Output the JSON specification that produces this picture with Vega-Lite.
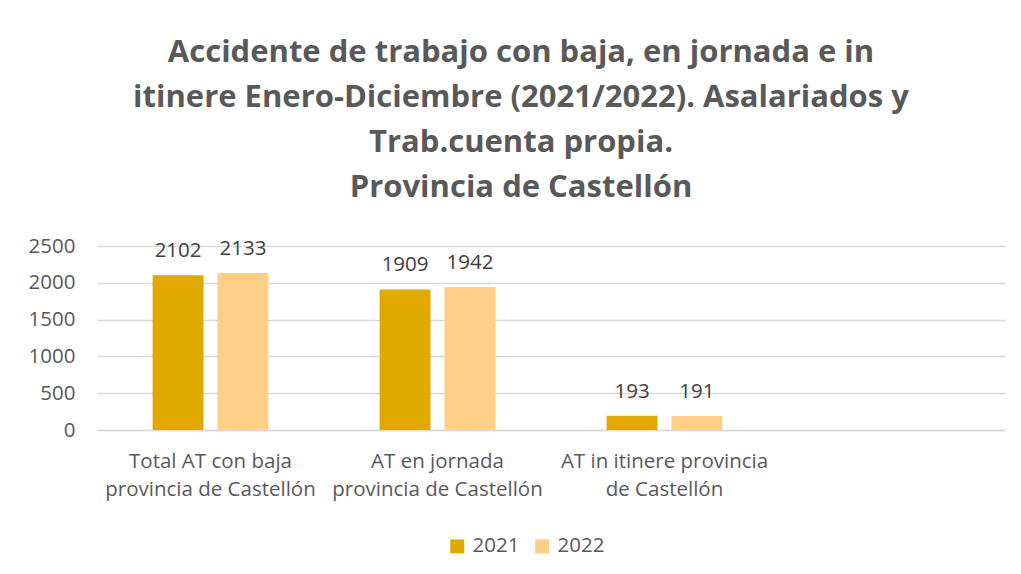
{
  "$schema": "https://vega.github.io/schema/vega-lite/v6.json",
  "width": 908,
  "height": 184,
  "autosize": {"type": "none"},
  "padding": {"left": 97, "top": 246, "right": 16, "bottom": 144},
  "background": "white",
  "title": {
    "text": ["Accidente de trabajo con baja, en jornada e in", "itinere Enero-Diciembre (2021/2022). Asalariados y", "Trab.cuenta propia.", "Provincia de Castellón"],
    "font": "Open Sans",
    "fontSize": 31,
    "fontWeight": "bold",
    "color": "#595959",
    "lineHeight": 45,
    "anchor": "middle",
    "dx": -30,
    "offset": 32
  },
  "data": {
    "values": [
      {"cat": "Total AT con baja|provincia de Castellón", "year": "2021", "value": 2102},
      {"cat": "Total AT con baja|provincia de Castellón", "year": "2022", "value": 2133},
      {"cat": "AT en jornada|provincia de Castellón", "year": "2021", "value": 1909},
      {"cat": "AT en jornada|provincia de Castellón", "year": "2022", "value": 1942},
      {"cat": "AT in itinere provincia|de Castellón", "year": "2021", "value": 193},
      {"cat": "AT in itinere provincia|de Castellón", "year": "2022", "value": 191}
    ]
  },
  "encoding": {
    "x": {
      "field": "cat",
      "type": "nominal",
      "sort": null,
      "scale": {
        "domain": ["Total AT con baja|provincia de Castellón", "AT en jornada|provincia de Castellón", "AT in itinere provincia|de Castellón", " "],
        "paddingInner": 0.49,
        "paddingOuter": 0.245
      },
      "axis": {
        "title": null,
        "labelExpr": "split(datum.label, '|')",
        "labelAngle": 0,
        "labelLimit": 0,
        "labelOverlap": false,
        "labelFont": "Open Sans",
        "labelFontSize": 20.5,
        "labelColor": "#595959",
        "labelLineHeight": 28,
        "labelPadding": 21,
        "labelBaseline": "top",
        "ticks": false,
        "domain": true,
        "domainColor": "#D9D9D9",
        "domainWidth": 1.5,
        "grid": false
      }
    },
    "xOffset": {"field": "year", "type": "nominal", "scale": {"paddingInner": 0.215, "paddingOuter": 0}},
    "y": {
      "field": "value",
      "type": "quantitative",
      "scale": {"domain": [0, 2500], "nice": false},
      "axis": {
        "title": null,
        "values": [0, 500, 1000, 1500, 2000, 2500],
        "format": "d",
        "labelFont": "Open Sans",
        "labelFontSize": 20.5,
        "labelColor": "#595959",
        "labelPadding": 22,
        "ticks": false,
        "domain": false,
        "gridColor": "#D9D9D9",
        "gridWidth": 1.5
      }
    }
  },
  "layer": [
    {
      "mark": {"type": "bar"},
      "encoding": {
        "color": {
          "field": "year",
          "type": "nominal",
          "scale": {"domain": ["2021", "2022"], "range": ["#E1A900", "#FFCF87"]},
          "legend": {
            "title": null,
            "orient": "none",
            "direction": "horizontal",
            "legendX": 350,
            "legendY": 290,
            "symbolType": "square",
            "symbolSize": 196,
            "symbolStrokeWidth": 0,
            "labelFont": "Open Sans",
            "labelFontSize": 20.5,
            "labelColor": "#595959",
            "columnPadding": 12,
            "labelOffset": 5
          }
        }
      }
    },
    {
      "mark": {"type": "text", "baseline": "alphabetic", "dy": -18, "font": "Open Sans", "fontSize": 20.5, "color": "#404040"},
      "encoding": {"text": {"field": "value", "type": "quantitative"}}
    }
  ],
  "config": {"view": {"stroke": null}}
}
